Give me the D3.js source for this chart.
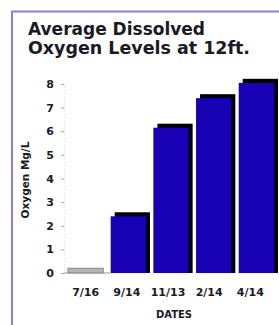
<!DOCTYPE html>
<html>
<head>
<meta charset="utf-8">
<script src="https://cdn.jsdelivr.net/npm/d3@7"></script>
<style>
  html, body { margin: 0; padding: 0; background: #fff; overflow: hidden; }
  svg { display: block; }
</style>
</head>
<body>
<script>
// chart data
let dates = ['7/16', '9/14', '11/13', '2/14', '4/14']
let oxygen = [0.2, 2.4, 6.15, 7.4, 8.05]
let yTicks = [0, 1, 2, 3, 4, 5, 6, 7, 8]
let titleLines = ['Average Dissolved', 'Oxygen Levels at 12ft.']

let width = 279, height = 325
let font = '"DejaVu Sans", sans-serif'

let svg = d3.select('body').append('svg')
  .attr('width', width)
  .attr('height', height)

// frame
svg.append('path')
  .attr('d', `M12,${height} V11.5 H${width}`)
  .attr('fill', 'none')
  .attr('stroke', '#8c7de0')
  .attr('stroke-width', 2)

// title
svg.append('g').selectAll('text').data(titleLines).enter()
  .append('text')
  .attr('x', 28)
  .attr('y', (d, i) => 35 + i * 19)
  .attr('textLength', (d, i) => i ? 222 : 177)
  .attr('lengthAdjust', 'spacingAndGlyphs')
  .style('font', `bold 18px ${font}`)
  .attr('fill', '#1a1a24')
  .text(d => d)

let x = d3.scaleBand()
  .domain(dates)
  .range([68, 278])
  .paddingInner(0.08)
  .paddingOuter(0)

let y = d3.scaleLinear()
  .domain([0, 8])
  .range([273, 84])

// y axis
let yAxis = svg.append('g')
  .attr('transform', 'translate(64,0)')
  .call(d3.axisLeft(y).tickValues(yTicks).tickSize(3).tickPadding(7).tickFormat(d3.format('d')))
yAxis.select('.domain').attr('stroke', '#ddd').attr('stroke-dasharray', '1,2')
yAxis.selectAll('.tick line').attr('stroke', '#aaa')
yAxis.selectAll('.tick text')
  .style('font', `bold 11px ${font}`)
  .attr('fill', '#1a1a24')

svg.append('text')
  .attr('transform', 'translate(29,180) rotate(-90)')
  .attr('text-anchor', 'middle')
  .style('font', `bold 10.5px ${font}`)
  .attr('fill', '#1a1a24')
  .text('Oxygen Mg/L')

// bars: black shadow behind, blue face in front
let shift = 4
let bars = svg.append('g').selectAll('g').data(dates).enter().append('g')

bars.append('rect')
  .attr('x', d => x(d) + shift)
  .attr('y', (d, i) => y(oxygen[i]) - 4)
  .attr('width', x.bandwidth() - shift)
  .attr('height', (d, i) => y(0) - y(oxygen[i]) + 4)
  .attr('fill', (d, i) => i ? '#000' : 'none')

bars.append('rect')
  .attr('x', d => x(d))
  .attr('y', (d, i) => y(oxygen[i]))
  .attr('width', x.bandwidth() - shift)
  .attr('height', (d, i) => y(0) - y(oxygen[i]))
  .attr('fill', (d, i) => i ? '#1800b4' : '#b4b4b8')
  .attr('stroke', (d, i) => i ? 'none' : '#8a8a90')
  .attr('stroke-width', 1)

// baseline
svg.append('line')
  .attr('x1', 64).attr('x2', x(dates[1]))
  .attr('y1', y(0)).attr('y2', y(0))
  .attr('stroke', '#999')

// x labels
svg.append('g').selectAll('text').data(dates).enter()
  .append('text')
  .attr('x', (d, i) => x(d) + x.bandwidth() / 2 - 2 - i * 1.5)
  .attr('y', 296)
  .attr('text-anchor', 'middle')
  .style('font', `bold 11px ${font}`)
  .attr('fill', '#1a1a24')
  .text(d => d)

svg.append('text')
  .attr('x', 174)
  .attr('y', 318)
  .attr('text-anchor', 'middle')
  .style('font', `bold 10px ${font}`)
  .attr('fill', '#1a1a24')
  .text('DATES')
</script>
</body>
</html>
